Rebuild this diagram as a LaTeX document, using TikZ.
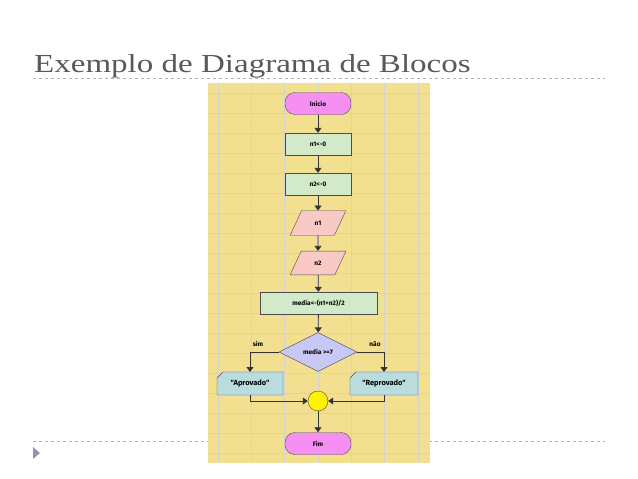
\documentclass[tikz,border=0pt]{standalone}
\usepackage{fontspec}
\setmainfont{Liberation Serif}
\newfontfamily\kid{Fira Sans}
\usetikzlibrary{shapes.geometric,arrows.meta}
\definecolor{bgc}{HTML}{F3DF90}
\definecolor{termc}{HTML}{F590F2}
\definecolor{procc}{HTML}{D3EACA}
\definecolor{ioc}{HTML}{F9C9C6}
\definecolor{decc}{HTML}{C8C8F6}
\definecolor{outc}{HTML}{B9DCDF}
\begin{document}
\begin{tikzpicture}[x=1pt,y=-1pt,
  box/.style={draw=black!70,thin,minimum width=66pt,minimum height=22pt,inner sep=1pt,font=\kid\bfseries\fontsize{6.5}{7}\selectfont},
  term/.style={box,rounded corners=10pt,fill=termc},
  proc/.style={box,fill=procc},
  io/.style={box,trapezium,trapezium left angle=65,trapezium right angle=115,minimum width=56pt,fill=ioc},
  arr/.style={-{Triangle[length=5pt,width=7pt]},black!80,thick},
  lbl/.style={font=\kid\bfseries\fontsize{6.5}{7}\selectfont}]
\useasboundingbox (0,0) rectangle (638,479);
\fill[white] (0,0) rectangle (638,479);
\node[anchor=base west,text=black!65,inner sep=0,font=\fontsize{26}{28}\selectfont] (title) at (34,72) {\scalebox{1.27}[1]{Exemplo de Diagrama de Blocos}};
\draw[dashed,gray!60] (33,78) -- (605,78);
\draw[dashed,gray!60] (33,441) -- (605,441);
\fill[blue!20!gray!70] (33,447) -- (40,453) -- (33,459) -- cycle;
% image background
\fill[bgc] (208,83) rectangle (430,463);
\foreach \x in {218,251,284,318,351,384,418} \draw[gray!35] (\x,83) -- (\x,463);
\foreach \y in {93,113,133,153,173,193,213,233,253,273,293,313,333,353,373,393,413,433,453} \draw[gray!35] (208,\y) -- (430,\y);
\node[term] (ini) at (318,103.5) {Inicio};
\node[proc] (a1) at (318,144) {n1<-0};
\node[proc] (a2) at (318,184) {n2<-0};
\node[io] (r1) at (318,223) {n1};
\node[io] (r2) at (318,263) {n2};
\node[proc,minimum width=117pt] (m) at (318.5,303) {media<-(n1+n2)/2};
\node[box,diamond,aspect=2,minimum width=78pt,minimum height=39pt,fill=decc] (d) at (318,352) {media >=7};
\fill[outc] (217,378) -- (223,372) -- (283,372) -- (283,395) -- (217,395) -- cycle;
\draw[black!70,thin] (217,378) -- (223,372) -- (283,372) -- (283,395) -- (217,395) -- cycle;
\node[lbl,font=\kid\bfseries\fontsize{7.5}{8}\selectfont] (ap) at (250,383.5) {"Aprovado"};
\fill[outc] (350,378) -- (356,372) -- (418,372) -- (418,395) -- (350,395) -- cycle;
\draw[black!70,thin] (350,378) -- (356,372) -- (418,372) -- (418,395) -- (350,395) -- cycle;
\node[lbl,font=\kid\bfseries\fontsize{7.5}{8}\selectfont] (rp) at (384,383.5) {"Reprovado"};
\coordinate (apt) at (250,372); \coordinate (rpt) at (384,372);
\coordinate (apb) at (250,395); \coordinate (rpb) at (384,395);
\node[circle,draw=black!70,fill=yellow,minimum size=20pt,inner sep=0] (c) at (318,401) {};
\node[term] (fim) at (318,443.5) {Fim};
\node[lbl] (sim) at (258,344) {sim};
\node[lbl] (nao) at (375,344) {não};
\draw[arr] (ini) -- (a1);
\draw[arr] (a1) -- (a2);
\draw[arr] (a2) -- (r1);
\draw[arr] (r1) -- (r2);
\draw[arr] (r2) -- (m);
\draw[arr] (m) -- (d);
\draw[arr] (d.west) -| (apt);
\draw[arr] (d.east) -| (rpt);
\draw[arr] (apb) |- (c.west);
\draw[arr] (rpb) |- (c.east);
\draw[arr] (c) -- (fim);
\end{tikzpicture}
\end{document}
